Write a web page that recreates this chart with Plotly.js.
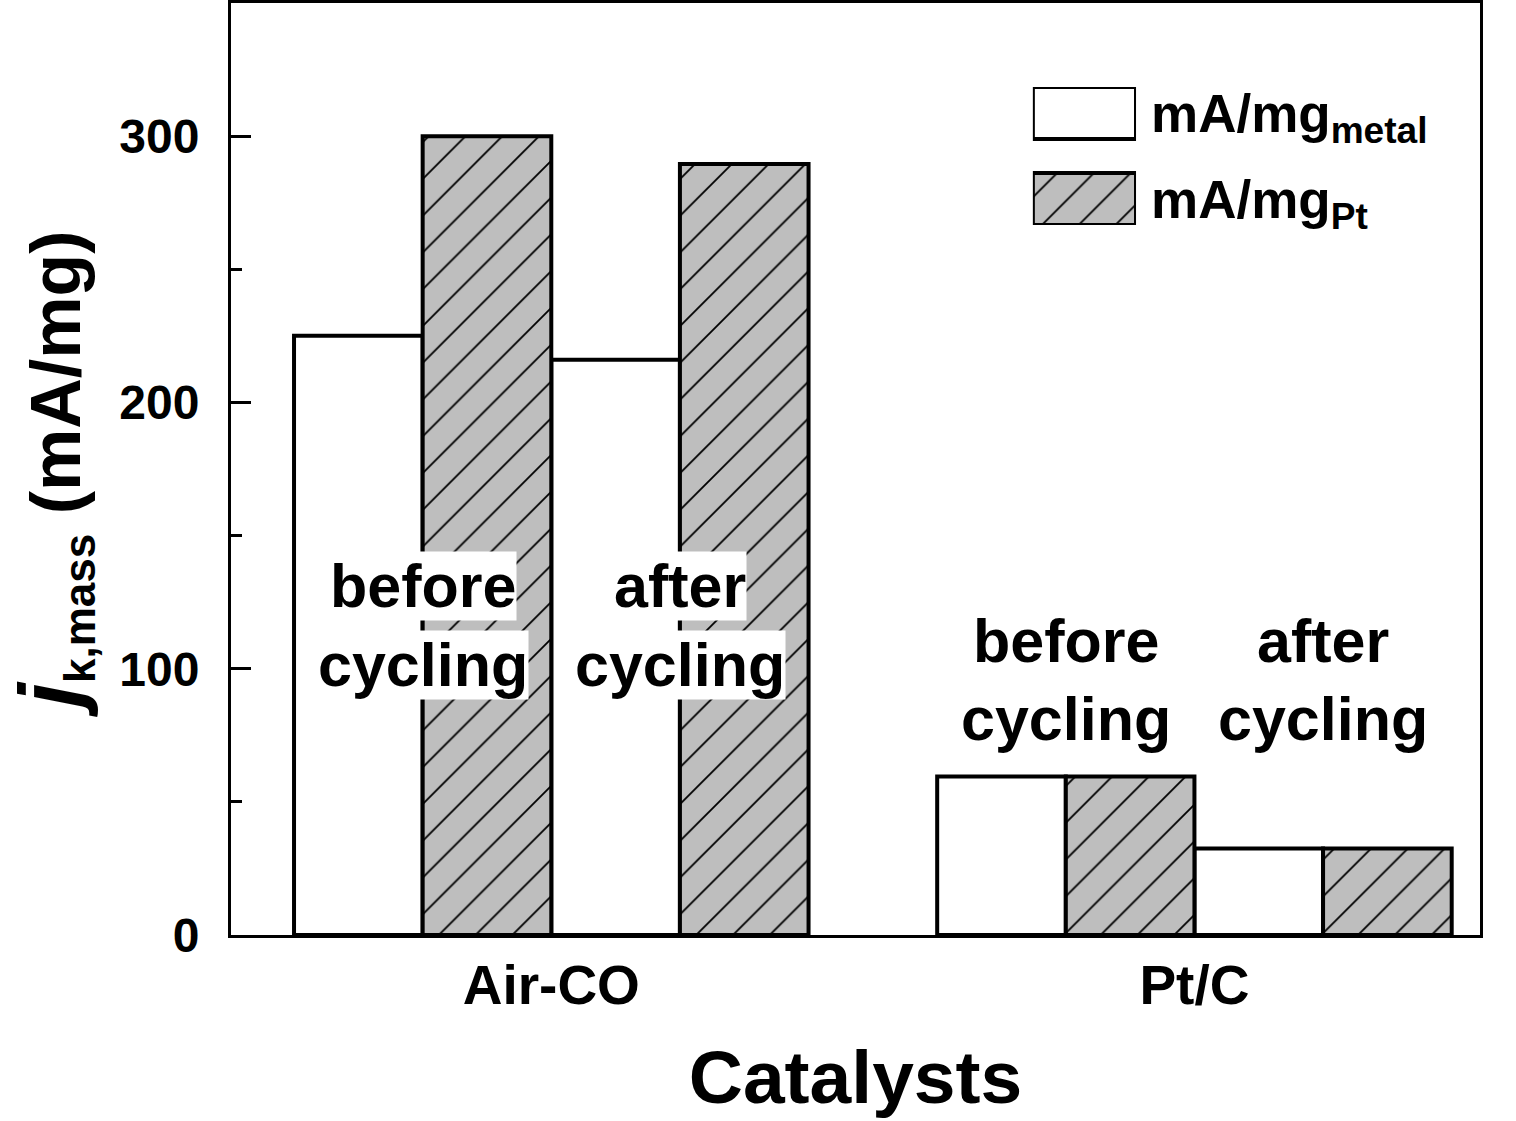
<!DOCTYPE html>
<html>
<head>
<meta charset="utf-8">
<script src="https://cdn.plot.ly/plotly-3.0.1.min.js"></script>
<style>html,body{margin:0;padding:0;background:#fff;}</style>
</head>
<body>
<div id="chart" style="width:1516px;height:1121px;"></div>
<script>
// ---- data ----
const catalysts = ["Air-CO", "Pt/C"];
const conditions = ["before", "after"];
const seriesNames = ["mA/mg<sub>metal</sub>", "mA/mg<sub>Pt</sub>"];
// values ordered [Air-CO before, Air-CO after, Pt/C before, Pt/C after]
const metalValues = [225, 216, 59.5, 32.5];
const ptValues = [300, 289.5, 59.5, 32.5];
const yTicks = [0, 100, 200, 300];

// ---- positions from indices ----
function xPos(g, c, s) { return g * 5 + c * 2 + s; }
const xsMetal = [], xsPt = [];
catalysts.forEach((_, g) => conditions.forEach((_, c) => {
  xsMetal.push(xPos(g, c, 0));
  xsPt.push(xPos(g, c, 1));
}));

const FONT = 'Liberation Sans, Arial, sans-serif';
const GREY = '#bebebe';
const lineStyle = {color: 'black', width: 4};
const hatch = {shape: '/', fgcolor: 'black', bgcolor: GREY, fillmode: 'replace', size: 26, solidity: 0.07};

const traces = [
  {type: 'bar', x: xsMetal, y: metalValues, width: 1, name: seriesNames[0],
   marker: {color: 'white', line: lineStyle}, showlegend: false, hoverinfo: 'y'},
  {type: 'bar', x: xsPt, y: ptValues, width: 1, name: seriesNames[1],
   marker: {color: GREY, line: lineStyle, pattern: hatch}, showlegend: false, hoverinfo: 'y'},
  // legend swatches on an auxiliary axis
  {type: 'bar', orientation: 'h', x: [1], y: [1], width: 0.605, xaxis: 'x2', yaxis: 'y2',
   marker: {color: 'white', line: lineStyle}, showlegend: false, cliponaxis: false, hoverinfo: 'skip'},
  {type: 'bar', orientation: 'h', x: [1], y: [0], width: 0.605, xaxis: 'x2', yaxis: 'y2',
   marker: {color: GREY, line: lineStyle, pattern: hatch}, showlegend: false, cliponaxis: false, hoverinfo: 'skip'}
];

// condition labels
const annotations = [];
const labelY = {0: [131, 101.5], 1: [110.5, 81]};
catalysts.forEach((_, g) => conditions.forEach((cond, c) => {
  const xc = xPos(g, c, 0) + 0.5;
  [cond, 'cycling'].forEach((word, k) => {
    annotations.push({
      x: xc, y: labelY[g][k], xref: 'x', yref: 'y', text: word, showarrow: false,
      font: {family: FONT, size: 61, color: 'black', weight: 'bold'},
      bgcolor: 'white', borderpad: 0, xanchor: 'center', yanchor: 'middle'
    });
  });
}));

const layout = {
  width: 1516, height: 1121,
  margin: {l: 231, r: 36, t: 3, b: 186},
  paper_bgcolor: 'white', plot_bgcolor: 'white',
  barmode: 'overlay',
  font: {family: FONT, color: 'black'},
  xaxis: {
    range: [-0.99, 8.72],
    tickvals: [1.5, 6.5], ticktext: catalysts,
    ticks: '', showgrid: false, zeroline: false,
    showline: true, linewidth: 3, linecolor: 'black', mirror: true,
    tickfont: {family: FONT, size: 55, weight: 'bold'},
    ticklabelstandoff: 0,
    title: {text: 'Catalysts', font: {family: FONT, size: 75, weight: 'bold'}, standoff: 36}
  },
  yaxis: {
    range: [0, 350],
    tickvals: yTicks,
    ticks: 'inside', ticklen: 20, tickwidth: 3, tickcolor: 'black',
    minor: {dtick: 50, tick0: 0, ticks: 'inside', ticklen: 11, tickwidth: 3, tickcolor: 'black', showgrid: false},
    showgrid: false, zeroline: false,
    showline: true, linewidth: 3, linecolor: 'black', mirror: true,
    tickfont: {family: FONT, size: 48, weight: 'bold'},
    ticklabelstandoff: 19,
    title: {
      text: '<i><span style="font-size:88px">j</span></i><sub><span style="font-size:44px">k,mass</span></sub> (mA/mg)',
      font: {family: FONT, size: 70, weight: 'bold'}, standoff: 28
    }
  },
  xaxis2: {domain: [0.642, 0.7246], range: [0, 1], anchor: 'y2', visible: false, fixedrange: true},
  yaxis2: {
    domain: [0.7618, 0.9099], range: [-0.302, 1.302], anchor: 'x2',
    showgrid: false, zeroline: false, showline: false, ticks: '',
    side: 'right', tickvals: [1, 0], ticktext: seriesNames,
    tickfont: {family: FONT, size: 53, weight: 'bold'}, ticklabelstandoff: 14
  },
  annotations: annotations,
  showlegend: false
};

Plotly.newPlot('chart', traces, layout, {displayModeBar: false, staticPlot: true});
</script>
</body>
</html>
